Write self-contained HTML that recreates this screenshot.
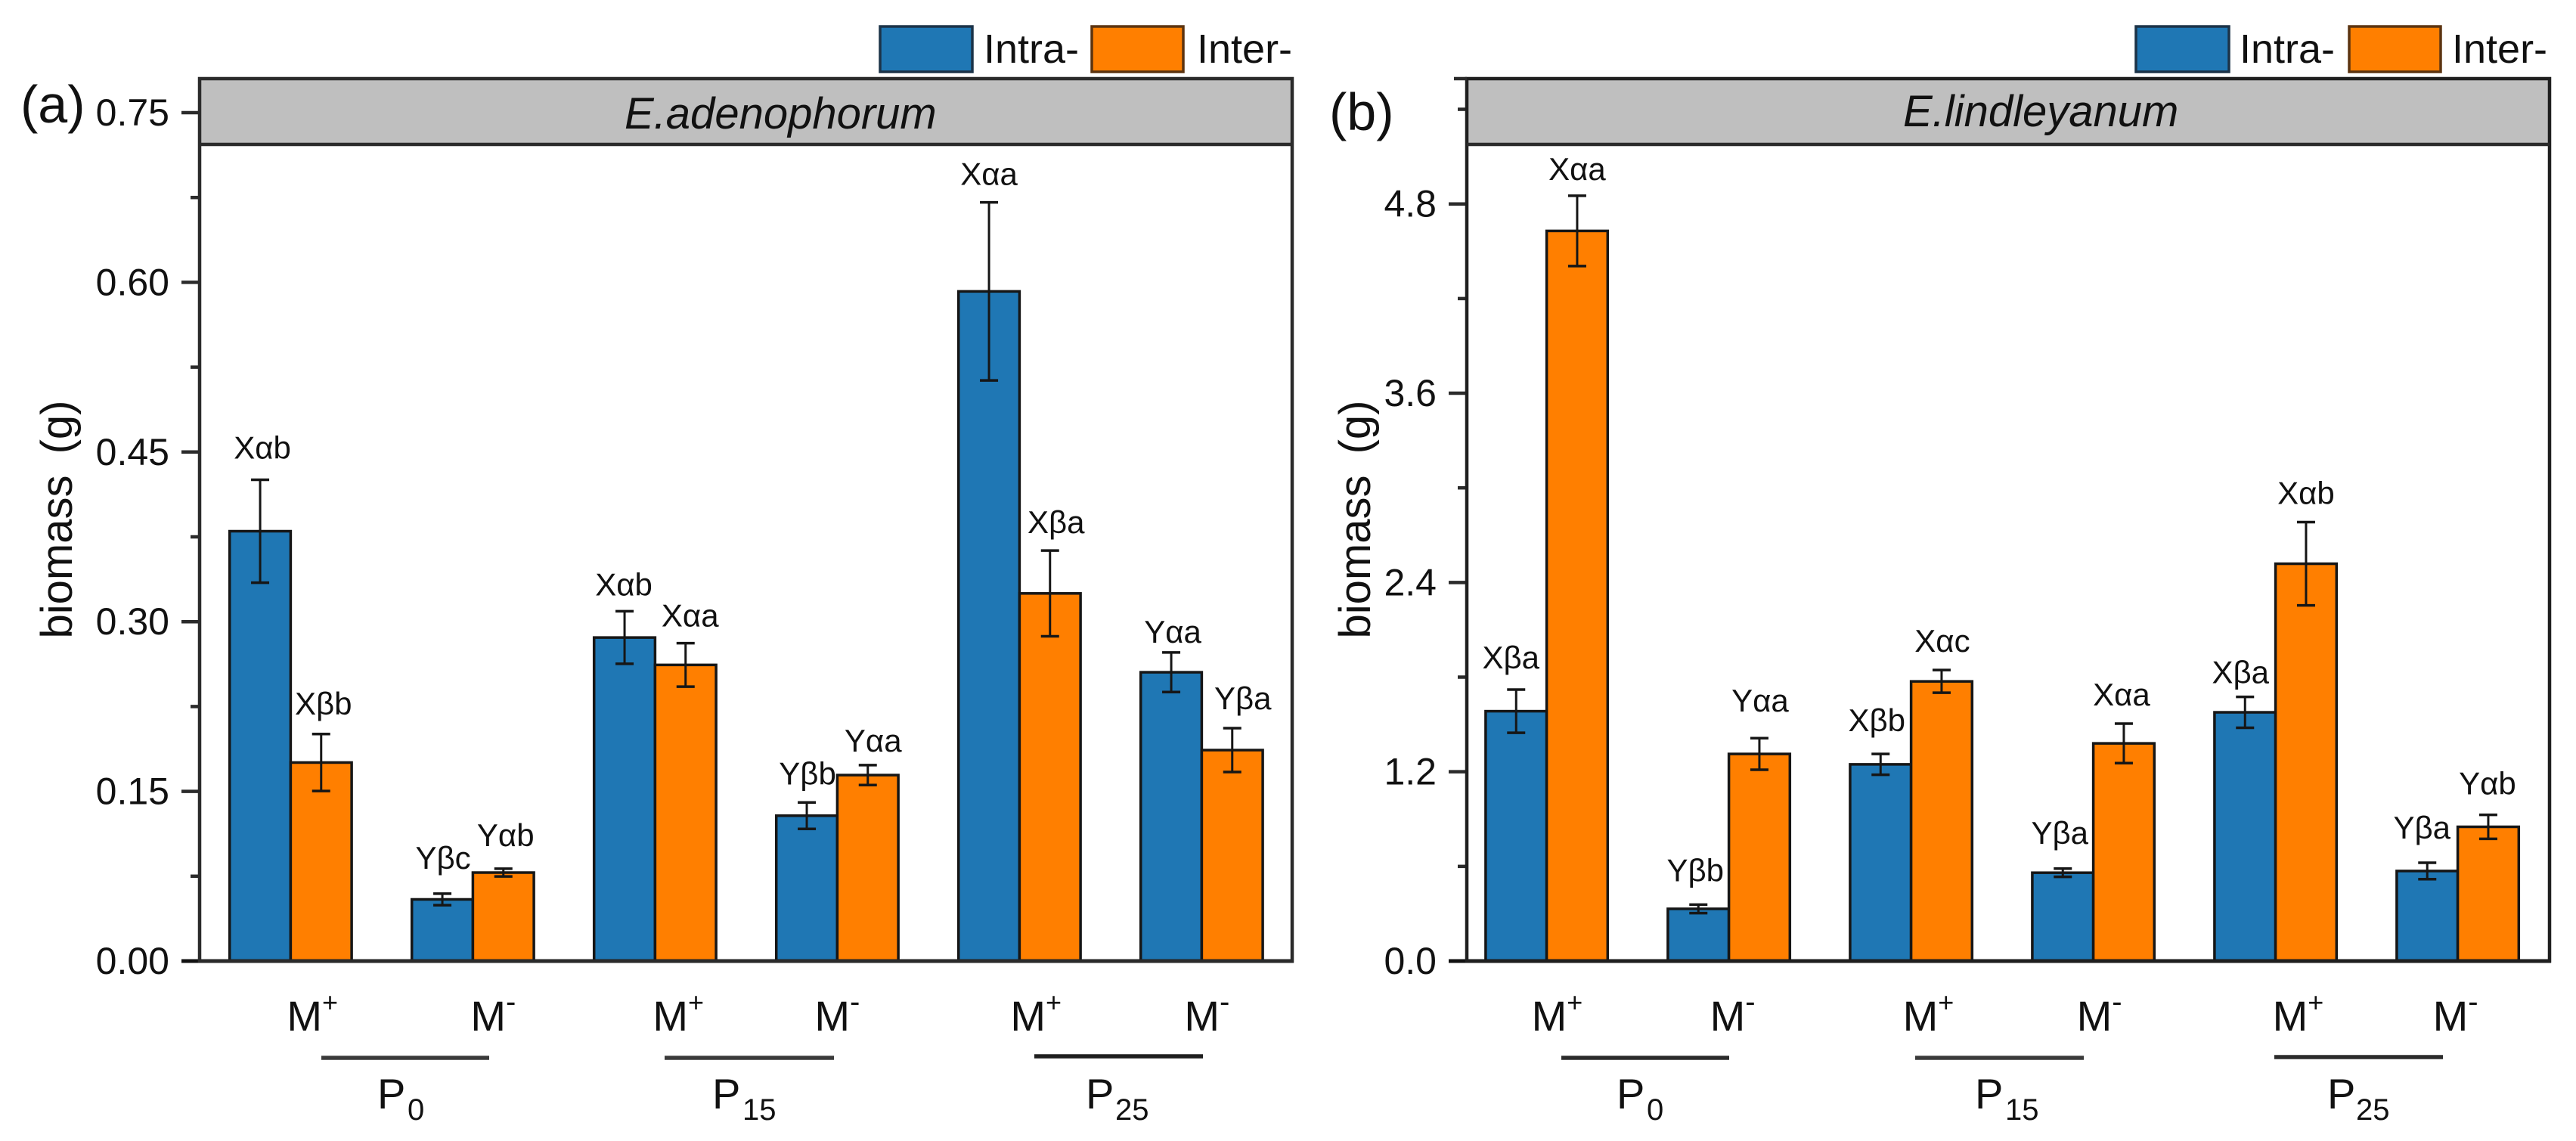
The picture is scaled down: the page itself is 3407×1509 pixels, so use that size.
<!DOCTYPE html>
<html lang="en">
<head>
<meta charset="utf-8">
<title>Biomass of E.adenophorum and E.lindleyanum</title>
<style>
html,body{margin:0;padding:0;background:#fff;}
svg{display:block;font-family:"Liberation Sans",sans-serif;fill:#111;}
</style>
</head>
<body>
<svg id="chart" xmlns="http://www.w3.org/2000/svg" width="3407" height="1509" viewBox="0 0 3407 1509">
  <rect x="0" y="0" width="3407" height="1509" fill="#fff"/>

  <rect x="264" y="104" width="1445" height="87" fill="#bfbfbf"/>
  <rect x="1940" y="104" width="1432" height="87" fill="#bfbfbf"/>

  <g id="panel-a-layer"></g>
  <g id="panel-b-layer"></g>

  <rect x="264" y="104" width="1445" height="1167" fill="none" stroke="#2b2b2b" stroke-width="4.5"/>
  <line x1="264" x2="1709" y1="191" y2="191" stroke="#2b2b2b" stroke-width="4.5"/>
  <rect x="1940" y="104" width="1432" height="1167" fill="none" stroke="#1f1f1f" stroke-width="4.5"/>
  <line x1="1940" x2="3372" y1="191" y2="191" stroke="#2b2b2b" stroke-width="4.5"/>
  <line x1="1923" x2="1940" y1="104" y2="104" stroke="#2b2b2b" stroke-width="4.5"/>

  <text x="27" y="162" font-size="70">(a)</text>
  <text x="1758" y="172" font-size="70">(b)</text>
  <text x="826" y="170" font-size="58" font-style="italic">E.adenophorum</text>
  <text x="2517" y="167" font-size="58" font-style="italic">E.lindleyanum</text>
  <text transform="translate(95,687) rotate(-90)" text-anchor="middle" font-size="58" word-spacing="12">biomass (g)</text>
  <text transform="translate(1812,687) rotate(-90)" text-anchor="middle" font-size="58" word-spacing="12">biomass (g)</text>

  <g>
    <rect x="1164" y="35" width="122" height="60" fill="#1f77b4" stroke="#1c3348" stroke-width="3.5"/>
    <text x="1301" y="83" font-size="54">Intra-</text>
    <rect x="1444" y="35" width="121" height="60" fill="#ff7f00" stroke="#5c3410" stroke-width="3.5"/>
    <text x="1583" y="83" font-size="54">Inter-</text>
  </g>
  <g>
    <rect x="2825" y="35" width="123" height="60" fill="#1f77b4" stroke="#1c3348" stroke-width="3.5"/>
    <text x="2962" y="83" font-size="54">Intra-</text>
    <rect x="3107" y="35" width="121" height="60" fill="#ff7f00" stroke="#5c3410" stroke-width="3.5"/>
    <text x="3243" y="83" font-size="54">Inter-</text>
  </g>

  <g stroke-width="0">
    <line x1="425" x2="647" y1="1399" y2="1399" stroke="#3a3a3a" stroke-width="5.5"/>
    <line x1="879" x2="1103" y1="1399" y2="1399" stroke="#3a3a3a" stroke-width="5.5"/>
    <line x1="1368" x2="1591" y1="1397" y2="1397" stroke="#1f1f1f" stroke-width="5.5"/>
    <text y="1466" font-size="56"><tspan x="499">P</tspan><tspan x="539" y="1481" font-size="40">0</tspan></text>
    <text y="1466" font-size="56"><tspan x="942">P</tspan><tspan x="982" y="1481" font-size="40">15</tspan></text>
    <text y="1466" font-size="56"><tspan x="1436">P</tspan><tspan x="1475" y="1481" font-size="40">25</tspan></text>
  </g>
  <g stroke-width="0">
    <line x1="2065" x2="2287" y1="1399" y2="1399" stroke="#2b2b2b" stroke-width="5.5"/>
    <line x1="2533" x2="2756" y1="1399" y2="1399" stroke="#3a3a3a" stroke-width="5.5"/>
    <line x1="3008" x2="3231" y1="1398" y2="1398" stroke="#2b2b2b" stroke-width="5.5"/>
    <text y="1466" font-size="56"><tspan x="2138">P</tspan><tspan x="2178" y="1481" font-size="40">0</tspan></text>
    <text y="1466" font-size="56"><tspan x="2612">P</tspan><tspan x="2652" y="1481" font-size="40">15</tspan></text>
    <text y="1466" font-size="56"><tspan x="3078">P</tspan><tspan x="3116" y="1481" font-size="40">25</tspan></text>
  </g>
</svg>

<script>
// Shared categories
const categories = ['M+', 'M-', 'M+', 'M-', 'M+', 'M-'];
const seriesNames = ['intra', 'inter'];

// Panel (a) E.adenophorum
const aIntra = [0.380, 0.0545, 0.286, 0.1285, 0.592, 0.2553];
const aIntraErr = [0.0455, 0.0051, 0.0232, 0.0117, 0.0787, 0.0175];
const aInter = [0.1755, 0.0782, 0.2618, 0.1644, 0.325, 0.1865];
const aInterErr = [0.0252, 0.0034, 0.0192, 0.0088, 0.0379, 0.0194];
const aIntraLabels = ['Xαb', 'Yβc', 'Xαb', 'Yβb', 'Xαa', 'Yαa'];
const aInterLabels = ['Xβb', 'Yαb', 'Xαa', 'Yαa', 'Xβa', 'Yβa'];
const aMajorTicks = [0, 0.15, 0.30, 0.45, 0.60, 0.75];
const aTickLabels = ['0.00', '0.15', '0.30', '0.45', '0.60', '0.75'];
const aMinorTicks = [0.075, 0.225, 0.375, 0.525, 0.675];

// Panel (b) E.lindleyanum
const bIntra = [1.584, 0.331, 1.247, 0.56, 1.577, 0.571];
const bIntraErr = [0.137, 0.027, 0.066, 0.026, 0.098, 0.052];
const bInter = [4.629, 1.313, 1.773, 1.38, 2.519, 0.851];
const bInterErr = [0.223, 0.1, 0.072, 0.125, 0.264, 0.076];
const bIntraLabels = ['Xβa', 'Yβb', 'Xβb', 'Yβa', 'Xβa', 'Yβa'];
const bInterLabels = ['Xαa', 'Yαa', 'Xαc', 'Xαa', 'Xαb', 'Yαb'];
const bMajorTicks = [0, 1.2, 2.4, 3.6, 4.8];
const bTickLabels = ['0.0', '1.2', '2.4', '3.6', '4.8'];
const bMinorTicks = [0.6, 1.8, 3.0, 4.2, 5.4];

const SVG_NS = 'http://www.w3.org/2000/svg';
function mk(parent, tag, attrs, text) {
  const el = document.createElementNS(SVG_NS, tag);
  for (const k in attrs) el.setAttribute(k, attrs[k]);
  if (text !== undefined) el.textContent = text;
  parent.appendChild(el);
  return el;
}

function drawPanel(cfg) {
  const g = document.getElementById(cfg.layer);
  const yScale = v => cfg.y0 - v * cfg.pxPerUnit;
  const xCenter = i => cfg.x0 + i * cfg.pitch;
  const barW = 80.7;
  const ink = '#161616';

  // y ticks
  cfg.majors.forEach((v, i) => {
    const t = mk(g, 'line', {x1: cfg.frameLeft - 24, x2: cfg.frameLeft, y1: yScale(v), y2: yScale(v), stroke: '#2b2b2b', 'stroke-width': 4.5});
    
    
    const l = mk(g, 'text', {x: cfg.frameLeft - 40, y: yScale(v) + 17, 'text-anchor': 'end', 'font-size': 50}, cfg.tickLabels[i]);
    
    
  });
  cfg.minors.forEach(v => {
    const t = mk(g, 'line', {x1: cfg.frameLeft - 12, x2: cfg.frameLeft, y1: yScale(v), y2: yScale(v), stroke: '#2b2b2b', 'stroke-width': 4.5});
    
    
  });

  // bars, error bars, significance labels
  const series = [
    {name: seriesNames[0], vals: cfg.intra, errs: cfg.intraErr, labels: cfg.intraLabels, fill: '#1f77b4', side: -1, shiftX: cfg.intraShift, gap: cfg.intraGap},
    {name: seriesNames[1], vals: cfg.inter, errs: cfg.interErr, labels: cfg.interLabels, fill: '#ff7f00', side: 0, shiftX: cfg.interShift, gap: cfg.interGap}
  ];
  series.forEach(s => {
    s.vals.forEach((v, i) => {
      const left = xCenter(i) + s.side * barW;
      const top = yScale(v);
      const bar = mk(g, 'rect', {x: left, y: top, width: barW, height: cfg.y0 - top, fill: s.fill, stroke: ink, 'stroke-width': 3.5});
      
      
    });
  });
  series.forEach(s => {
    s.vals.forEach((v, i) => {
      const cx = xCenter(i) + s.side * barW + barW / 2;
      const hi = yScale(v + s.errs[i]);
      const lo = yScale(v - s.errs[i]);
      const stem = mk(g, 'line', {x1: cx, x2: cx, y1: hi, y2: lo, stroke: ink, 'stroke-width': 3});
      
      
      [hi, lo].forEach(yy => {
        const cap = mk(g, 'line', {x1: cx - 12, x2: cx + 12, y1: yy, y2: yy, stroke: ink, 'stroke-width': 3.5});
        
        
      });
      const lab = mk(g, 'text', {x: cx + s.shiftX[i], y: hi - s.gap[i], 'text-anchor': 'middle', 'font-size': 42}, s.labels[i]);
      
      
    });
  });

  // baseline
  const base = mk(g, 'line', {x1: cfg.frameLeft - 24, x2: cfg.frameRight + 2, y1: cfg.y0, y2: cfg.y0, stroke: '#111', 'stroke-width': 5});
  
  

  // category labels
  categories.forEach((c, i) => {
    const isPlus = c.charAt(1) === '+';
    const t = mk(g, 'text', {x: xCenter(i) + cfg.catShift[i], y: 1363, 'font-size': 56});
    
    
    mk(t, 'tspan', {}, c.charAt(0));
    mk(t, 'tspan', {dy: -25, 'font-size': isPlus ? 36 : 40}, c.charAt(1));
  });
}

drawPanel({
  layer: 'panel-a-layer', frameLeft: 264, frameRight: 1709, y0: 1271, pxPerUnit: 1496, x0: 384.4, pitch: 241,
  intra: aIntra, intraErr: aIntraErr, inter: aInter, interErr: aInterErr,
  intraLabels: aIntraLabels, interLabels: aInterLabels,
  majors: aMajorTicks, tickLabels: aTickLabels, minors: aMinorTicks,
  intraShift: [3, 1, -1, 1, 0, 2], interShift: [3, 3, 6, 7, 8, 14],
  intraGap: [28, 33, 21, 24, 23, 13], interGap: [26, 30, 22, 18, 23, 25],
  catShift: [-5, -3, -3, -30, -12, -23]
});

drawPanel({
  layer: 'panel-b-layer', frameLeft: 1940, frameRight: 3372, y0: 1271, pxPerUnit: 208.6, x0: 2045.6, pitch: 241,
  intra: bIntra, intraErr: bIntraErr, inter: bInter, interErr: bInterErr,
  intraLabels: bIntraLabels, interLabels: bInterLabels,
  majors: bMajorTicks, tickLabels: bTickLabels, minors: bMinorTicks,
  intraShift: [-7, -4, -5, -4, -6, -7], interShift: [0, 1, 1, -3, 0, -1],
  intraGap: [28, 31, 30, 33, 18, 32], interGap: [21, 35, 24, 24, 24, 27],
  catShift: [-20, -25, -11, -22, -4, -33]
});
</script>
</body>
</html>
